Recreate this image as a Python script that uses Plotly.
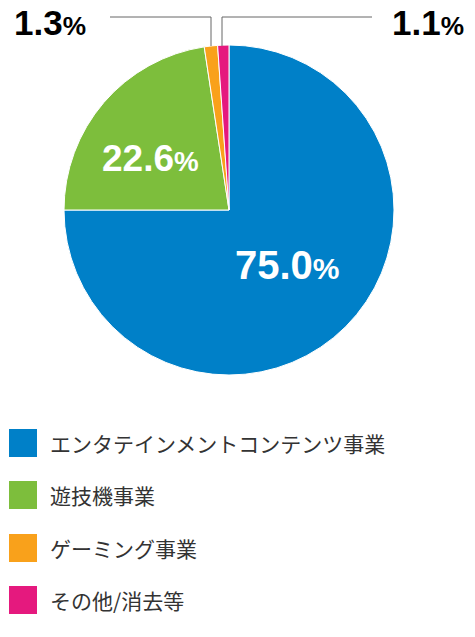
import plotly.graph_objects as go

labels = ["エンタテインメントコンテンツ事業", "遊技機事業", "ゲーミング事業", "その他/消去等"]
values = [75.0, 22.6, 1.3, 1.1]
colors = ["#0080C8", "#7DBE3C", "#F9A11B", "#E5197E"]

W, H = 475, 637
OFF = 8
def px(x): return (x - OFF) / W
def py(y): return 1 - (y - OFF) / H

fig = go.Figure(go.Pie(
    labels=labels, values=values, sort=False, direction="clockwise", rotation=0,
    marker=dict(colors=colors, line=dict(color="white", width=1)),
    textinfo="none", hoverinfo="label+percent", showlegend=False,
    domain=dict(x=[px(64), px(394)], y=[py(375), py(45)]),
))

def lab(v):
    return f"<b>{v:.1f}</b><span style='font-size:0.75em'><b>%</b></span>"

ann = [
    dict(x=px(287), y=py(265), text=lab(values[0]), color="white", size=40),
    dict(x=px(150), y=py(158), text=lab(values[1]), color="white", size=37),
    dict(x=px(50), y=py(22), text=lab(values[2]), color="black", size=35),
    dict(x=px(428), y=py(22), text=lab(values[3]), color="black", size=35),
]
annotations = [dict(x=a["x"], y=a["y"], xref="paper", yref="paper", text=a["text"],
                    xanchor="center", yanchor="middle",
                    showarrow=False, font=dict(family="Liberation Sans", size=a["size"], color=a["color"]))
               for a in ann]

shapes = [
    dict(type="path", xref="paper", yref="paper",
         path=f"M {px(110)},{py(17)} L {px(211)},{py(17)} L {px(211)},{py(46)}",
         line=dict(color="#666", width=1)),
    dict(type="path", xref="paper", yref="paper",
         path=f"M {px(222)},{py(46)} L {px(222)},{py(17)} L {px(372)},{py(17)}",
         line=dict(color="#666", width=1)),
]
rows = [443, 495, 548, 600]
for i, (t, c) in enumerate(zip(labels, colors)):
    yc = rows[i]
    shapes.append(dict(type="rect", xref="paper", yref="paper",
                       x0=px(9), x1=px(37), y0=py(yc + 14), y1=py(yc - 14),
                       fillcolor=c, line=dict(width=0)))
    annotations.append(dict(x=px(48), y=py(yc), xref="paper", yref="paper", text=t,
                            xanchor="left", yanchor="middle", showarrow=False,
                            font=dict(family="Noto Sans CJK JP", size=21, color="#333")))

fig.update_layout(width=W, height=H, margin=dict(l=0, r=0, t=0, b=0),
                  paper_bgcolor="white", plot_bgcolor="white",
                  annotations=annotations, shapes=shapes)
fig.write_html("out.html")
